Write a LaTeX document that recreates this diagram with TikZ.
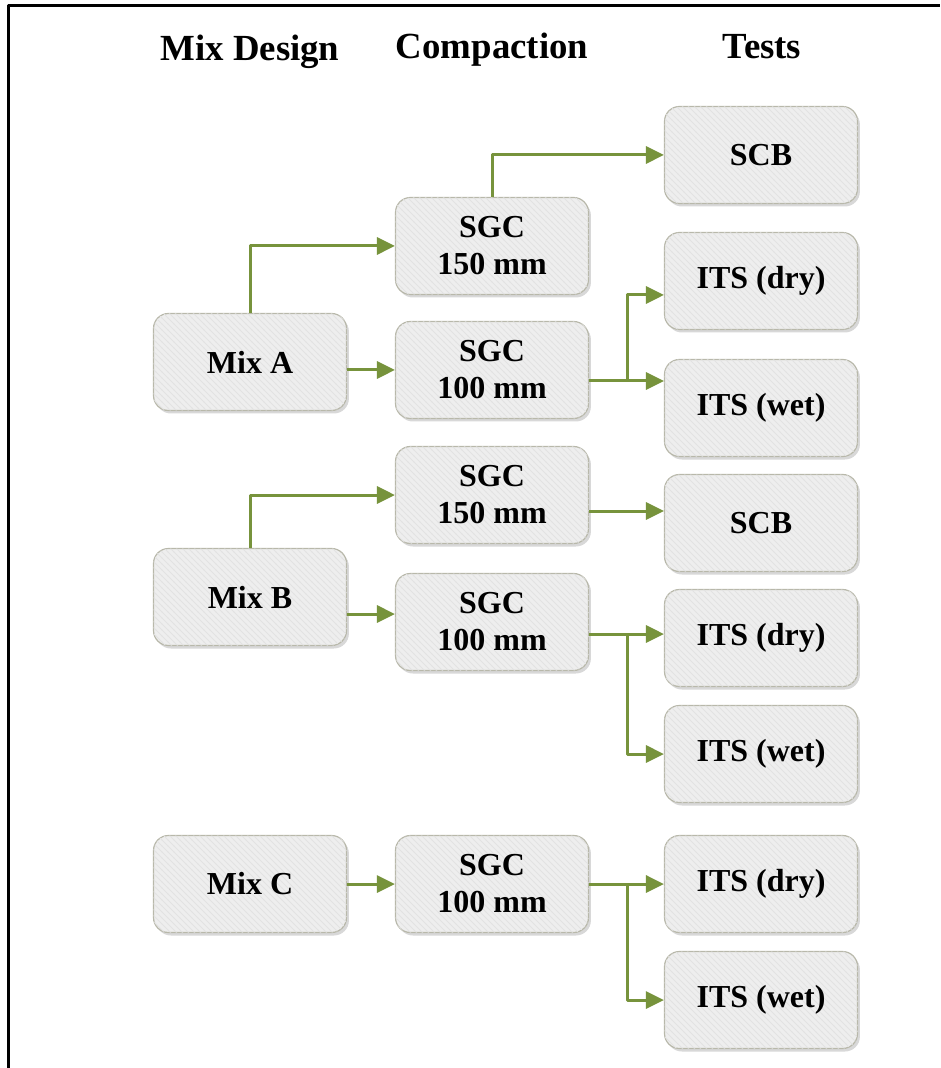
\documentclass[tikz,border=0pt]{standalone}
\usepackage{fontspec}
\setmainfont{Liberation Serif}
\usetikzlibrary{arrows.meta,shadows,patterns}
\definecolor{linkgreen}{RGB}{119,147,60}
\definecolor{boxfill}{RGB}{238,238,238}
\definecolor{boxline}{RGB}{184,184,170}
\definecolor{hatch}{RGB}{226,226,226}
\tikzset{
  box/.style={draw=boxline, line width=0.6pt, rounded corners=7.5pt, fill=boxfill,
    minimum width=96.5pt, minimum height=48.5pt, align=center,
    font=\fontsize{16}{18.5}\selectfont\bfseries,
    drop shadow={shadow xshift=1.2pt, shadow yshift=-1.5pt, opacity=0.25, fill=black!60},
    postaction={pattern=north west lines, pattern color=hatch}},
  head/.style={font=\fontsize{18.4}{22}\selectfont\bfseries},
  link/.style={draw=linkgreen, line width=1.5pt, -{Triangle[length=9pt,width=8.5pt]}},
  bar/.style={draw=linkgreen, line width=1.5pt}
}
\begin{document}
\begin{tikzpicture}[x=0.5pt, y=-0.5pt, line join=round]
  \useasboundingbox (0,0) rectangle (940,1068);
  \fill[white] (0,0) rectangle (940,1068);
  \draw[line width=1.5pt] (8,1068) -- (8,6) -- (940,6);

  \node[head] (hmix)  at (250,52) {Mix Design};
  \node[head] (hcomp) at (492,50) {Compaction};
  \node[head] (htest) at (762,47) {Tests};

  % mix A
  \node[box] (mixA)  at (250,362) {Mix A};
  \node[box] (sgcA1) at (492,246) {SGC\\150 mm};
  \node[box] (sgcA2) at (492,370) {SGC\\100 mm};
  \node[box] (scbA)  at (761,155) {SCB};
  \node[box] (dryA)  at (761,281) {ITS (dry)};
  \node[box] (wetA)  at (761,408) {ITS (wet)};

  % mix B
  \node[box] (sgcB1) at (492,495) {SGC\\150 mm};
  \node[box] (scbB)  at (761,523) {SCB};
  \node[box] (mixB)  at (250,597) {Mix B};
  \node[box] (sgcB2) at (492,622) {SGC\\100 mm};
  \node[box] (dryB)  at (761,638) {ITS (dry)};
  \node[box] (wetB)  at (761,754) {ITS (wet)};

  % mix C
  \node[box] (mixC)  at (250,884) {Mix C};
  \node[box] (sgcC)  at (492,884) {SGC\\100 mm};
  \node[box] (dryC)  at (761,884) {ITS (dry)};
  \node[box] (wetC)  at (761,1000) {ITS (wet)};

  \coordinate (jA)  at (627,381);
  \coordinate (jAd) at (627,295);
  \coordinate (jB)  at (627,634);
  \coordinate (jC)  at (627,884);

  \draw[link] (mixA.north) |- (sgcA1.west);
  \draw[link] (mixA.east |- sgcA2.west) -- (sgcA2.west);
  \draw[link] (sgcA1.north) |- (scbA.west);
  \draw[link] (sgcA2.east |- jA) -- (jA -| wetA.west);
  \draw[link] (jA) |- (jAd -| dryA.west);

  \draw[link] (mixB.north) |- (sgcB1.west);
  \draw[link] ([yshift=6pt]scbB.west -| sgcB1.east) -- ([yshift=6pt]scbB.west);
  \draw[link] ([yshift=4pt]sgcB2.west -| mixB.east) -- ([yshift=4pt]sgcB2.west);
  \draw[link] (sgcB2.east |- jB) -- (jB -| dryB.west);
  \draw[link] (jB) |- (wetB.west);

  \draw[link] (mixC) -- (sgcC);
  \draw[link] (sgcC) -- (dryC);
  \draw[link] (jC) |- (wetC.west);
\end{tikzpicture}
\end{document}
